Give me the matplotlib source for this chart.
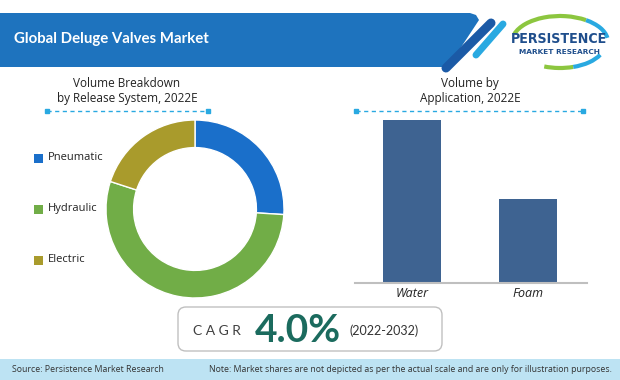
import matplotlib
matplotlib.use('Agg')
import matplotlib.pyplot as plt
from matplotlib.patches import Polygon, Rectangle, FancyBboxPatch, Arc

# Data
release_labels = ['Pneumatic', 'Hydraulic', 'Electric']
release_shares = [26, 54, 20]
release_colors = ['#1a6fca', '#71ad47', '#a99b2c']

app_labels = ['Water', 'Foam']
app_values = [66, 34]

fig = plt.figure(figsize=(6.2, 3.8), dpi=100)
fig.patch.set_facecolor('white')

# Decoration layer in pixel coordinates
bg = fig.add_axes([0, 0, 1, 1])
bg.set_xlim(0, 620)
bg.set_ylim(380, 0)
bg.axis('off')
bg.patch.set_alpha(0)

# Header banner
bg.add_patch(Polygon([(0, 13), (470, 13), (476, 15), (479, 20), (448, 67), (0, 67)],
                     closed=True, color='#1e73be', lw=0))
bg.plot([491, 446], [23, 68], color='#1b5aa6', lw=6.5, solid_capstyle='round')
bg.plot([503, 476], [24, 55], color='#29a9e1', lw=5, solid_capstyle='round')
bg.text(14, 39, 'Global Deluge Valves Market', color='white', fontsize=10.8,
        fontweight='bold', family='Lato', va='center', ha='left')

# Logo
bg.add_patch(Arc((560, 42), 96, 52, theta1=190, theta2=320, color='#8cc63f', lw=3))
bg.add_patch(Arc((560, 42), 96, 52, theta1=320, theta2=355, color='#29a9e1', lw=3))
bg.add_patch(Arc((560, 44), 90, 48, theta1=60, theta2=125, color='#8cc63f', lw=3))
bg.add_patch(Arc((560, 44), 90, 48, theta1=15, theta2=60, color='#29a9e1', lw=3))
bg.text(559, 39, 'PERSISTENCE', color='#1f4e8c', fontsize=10.2, fontweight='bold',
        family='DejaVu Sans', stretch='condensed', ha='center', va='center')
bg.text(559, 51.5, 'MARKET RESEARCH', color='#1f4e8c', fontsize=5.3, fontweight='bold',
        family='DejaVu Sans', ha='center', va='center')

# Section titles with dashed rules
bg.text(127, 91, 'Volume Breakdown\nby Release System, 2022E', fontsize=8.5,
        family='Open Sans', color='#222222', ha='center', va='center', linespacing=1.2)
bg.plot([47, 208], [111, 111], color='#29a9e1', lw=1, ls=(0, (3, 2.5)))
bg.plot([47, 208], [111, 111], 's', color='#29a9e1', ms=3.5)

bg.text(470, 91, 'Volume by\nApplication, 2022E', fontsize=8.5,
        family='Open Sans', color='#222222', ha='center', va='center', linespacing=1.2)
bg.plot([356, 583], [111, 111], color='#29a9e1', lw=1, ls=(0, (3, 2.5)))
bg.plot([356, 583], [111, 111], 's', color='#29a9e1', ms=3.5)

# Legend for donut
for i, (lab, col) in enumerate(zip(release_labels, release_colors)):
    y = 158 + i * 51
    bg.add_patch(Rectangle((34, y - 4.5), 9, 9, color=col, lw=0))
    bg.text(48, y, lab, fontsize=8, family='Open Sans', color='#222222', va='center')

# CAGR box
bg.add_patch(FancyBboxPatch((178, 307), 264, 44, boxstyle='round,pad=0,rounding_size=8',
                            facecolor='white', edgecolor='#c0c0c0', lw=1))
bg.text(193, 331, 'C A G R', fontsize=10, family='Lato', color='#404040', va='center')
bg.text(255, 330, '4.0%', fontsize=28, family='Lato', fontweight='bold',
        color='#1b6b5e', va='center')
bg.text(350, 331, '(2022-2032)', fontsize=9, family='Lato', color='#333333', va='center')

# Footer
bg.add_patch(Rectangle((0, 359), 620, 21, color='#bde3f3', lw=0))
bg.text(12, 370, 'Source: Persistence Market Research', fontsize=6.3,
        family='Open Sans', color='#333333', va='center')
bg.text(612, 370, 'Note: Market shares are not depicted as per the actual scale and are only for illustration purposes.',
        fontsize=6.3, family='Open Sans', color='#333333', va='center', ha='right')

# Donut
ax1 = fig.add_axes([106 / 620, 1 - 298 / 380, 178 / 620, 178 / 380])
ax1.pie(release_shares, colors=release_colors, startangle=90, counterclock=False,
        wedgeprops=dict(width=0.31, edgecolor='white', linewidth=1))
ax1.set_xlim(-1, 1)
ax1.set_ylim(-1, 1)

# Bars
ax2 = fig.add_axes([355 / 620, 1 - 283 / 380, 232 / 620, 170 / 380])
ax2.bar(range(len(app_values)), app_values, width=0.5, color='#3e6391')
ax2.set_xlim(-0.49, 1.51)
ax2.set_ylim(0, 68.8)
for s in ['top', 'right', 'left']:
    ax2.spines[s].set_visible(False)
ax2.spines['bottom'].set_color('#bfbfbf')
ax2.spines['bottom'].set_linewidth(1.5)
ax2.set_yticks([])
ax2.set_xticks(range(len(app_labels)))
ax2.set_xticklabels(app_labels, fontsize=9, style='italic', family='Open Sans', color='#222222')
ax2.tick_params(axis='x', length=0, pad=3)
ax2.patch.set_alpha(0)

fig.savefig('out.png', dpi=100)
